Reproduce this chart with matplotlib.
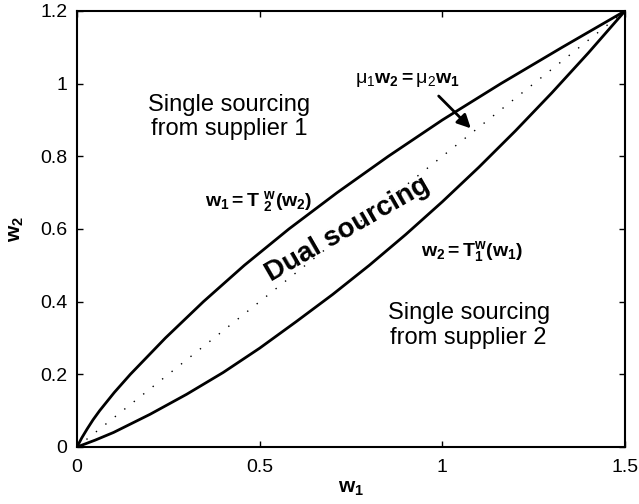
import matplotlib
matplotlib.use("Agg")
import matplotlib.pyplot as plt

plt.rcParams['font.family'] = ['Liberation Sans', 'DejaVu Sans']
plt.rcParams['mathtext.fontset'] = 'custom'
plt.rcParams['mathtext.rm'] = 'Liberation Sans'
plt.rcParams['mathtext.it'] = 'Liberation Sans:italic'
plt.rcParams['mathtext.bf'] = 'Liberation Sans:bold'
plt.rcParams['mathtext.default'] = 'regular'

# Threshold curve w1 = T2^w(w2): w1 as a function of w2
upper_w2 = [0.0, 0.025, 0.05, 0.075, 0.10, 0.15, 0.20, 0.30, 0.40, 0.50, 0.60, 0.70, 0.80, 0.90, 1.00, 1.10, 1.20]
upper_w1 = [0.0, 0.013, 0.028, 0.044, 0.062, 0.102, 0.146, 0.242, 0.346, 0.458, 0.580, 0.712, 0.852, 1.000, 1.160, 1.328, 1.500]

# Threshold curve w2 = T1^w(w1): w2 as a function of w1
lower_w1 = [0.0, 0.05, 0.10, 0.20, 0.30, 0.40, 0.50, 0.60, 0.70, 0.80, 0.90, 1.00, 1.10, 1.20, 1.30, 1.40, 1.50]
lower_w2 = [0.0, 0.019, 0.040, 0.090, 0.145, 0.205, 0.272, 0.345, 0.420, 0.500, 0.585, 0.675, 0.770, 0.870, 0.975, 1.085, 1.200]

# Ray mu1*w2 = mu2*w1
ray_w1 = [0.0, 1.5]
ray_w2 = [0.0, 1.2]

x_ticks = [0, 0.5, 1, 1.5]
x_tick_labels = ['0', '0.5', '1', '1.5']
y_ticks = [0, 0.2, 0.4, 0.6, 0.8, 1.0, 1.2]
y_tick_labels = ['0', '0.2', '0.4', '0.6', '0.8', '1', '1.2']

fig = plt.figure(figsize=(6.39, 5.04), dpi=100)
ax = fig.add_axes([0.1205, 0.1131, 0.8576, 0.8651])

ax.plot(upper_w1, upper_w2, color='black', lw=2.0, solid_capstyle='round',
        solid_joinstyle='round')
ax.plot(lower_w1, lower_w2, color='black', lw=2.0, solid_capstyle='round',
        solid_joinstyle='round')
ax.plot(ray_w1, ray_w2, color='black', lw=1.0, linestyle=(0, (1, 7.7)), dash_capstyle='butt')

ax.set_xlim(0, 1.5)
ax.set_ylim(0, 1.2)
ax.set_xticks(x_ticks)
ax.set_xticklabels(x_tick_labels)
ax.set_yticks(y_ticks)
ax.set_yticklabels(y_tick_labels)
ax.tick_params(direction='in', length=4, width=1, top=True, right=True,
               labelsize=14, colors='black')
ax.tick_params(axis='x', pad=9)
ax.tick_params(axis='y', pad=7)
for s in ax.spines.values():
    s.set_linewidth(1.5)

ax.set_xlabel(r'$\mathbf{w_1}$', fontsize=15, labelpad=2)
ax.set_ylabel(r'$\mathbf{w_2}$', fontsize=15, labelpad=10)

ax.text(0.417, 0.908, 'Single sourcing\nfrom supplier 1', fontsize=17,
        ha='center', va='center', multialignment='center', linespacing=1.15)
ax.text(1.072, 0.334, 'Single sourcing\nfrom supplier 2', fontsize=17,
        ha='center', va='center', multialignment='center', linespacing=1.15)
ax.text(0.74, 0.598, 'Dual sourcing', fontsize=20, fontweight='bold',
        rotation=30, ha='center', va='center', rotation_mode='anchor')

ax.text(0.498, 0.677, r'$\mathbf{w_1{=}T}\ \mathbf{{}_2^w(w_2)}$', fontsize=14,
        ha='center', va='center')
ax.text(1.082, 0.539, r'$\mathbf{w_2{=}T_1^w(w_1)}$', fontsize=14,
        ha='center', va='center')
ax.text(0.904, 1.010, r'$\mu_1\mathbf{w_2{=}}\mu_2\mathbf{w_1}$', fontsize=14,
        ha='center', va='center')

ax.annotate('', xy=(1.078, 0.877), xytext=(0.99, 0.966),
            arrowprops=dict(arrowstyle='-|>', lw=2, color='black',
                            mutation_scale=20, shrinkA=0, shrinkB=0))

fig.savefig('out.png', dpi=100)
